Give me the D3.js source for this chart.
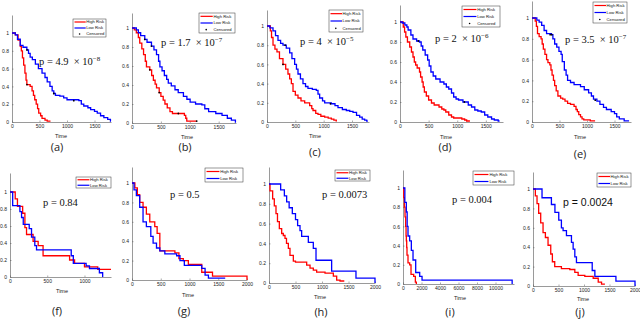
<!DOCTYPE html>
<html>
<head>
<meta charset="utf-8">
<script src="https://cdn.jsdelivr.net/npm/d3@7"></script>
<style>
  body { margin: 0; background: #fff; }
  svg { display: block; }
  .tick text { font-family: "Liberation Sans", Arial, sans-serif; font-size: 5px; fill: #222; }
  .domain { stroke: #555; stroke-width: 0.6; }
  .tick line { stroke: #555; stroke-width: 0.5; }
</style>
</head>
<body>
<div id="chart"></div>
<script>
// survival curves: [time, survival] step points
var highA = [[0,1],[60,0.98],[110,0.92],[150,0.85],[170,0.8],[190,0.72],[212,0.64],[235,0.55],[255,0.47],[270,0.42],[330,0.4],[365,0.35],[390,0.3],[413,0.25],[440,0.2],[465,0.15],[486,0.1],[520,0.07],[546,0.04],[600,0.02],[640,0.01],[700,0.01]];
var lowA = [[0,1],[60,0.98],[100,0.93],[150,0.86],[200,0.84],[270,0.81],[300,0.77],[330,0.73],[370,0.7],[425,0.65],[480,0.6],[546,0.55],[600,0.5],[640,0.45],[690,0.4],[730,0.35],[760,0.32],[790,0.3],[870,0.29],[940,0.27],[1000,0.25],[1215,0.24],[1260,0.2],[1305,0.18],[1380,0.16],[1430,0.14],[1500,0.12],[1550,0.1],[1610,0.07],[1670,0.05],[1740,0.03],[1790,0.01],[1800,0.01]];
var censA = [[273,0.42],[273,0.81],[760,0.32],[1123,0.24]];

var highB = [[0,1],[40,0.98],[75,0.95],[110,0.9],[134,0.84],[170,0.78],[200,0.72],[230,0.65],[250,0.59],[308,0.56],[340,0.5],[370,0.45],[400,0.41],[424,0.37],[471,0.32],[500,0.28],[540,0.24],[570,0.2],[610,0.16],[657,0.12],[700,0.1],[907,0.08],[930,0.05],[948,0.02],[1120,0.02]];
var lowB = [[0,1],[75,0.98],[110,0.95],[150,0.92],[221,0.88],[260,0.85],[337,0.81],[380,0.77],[424,0.72],[460,0.65],[483,0.59],[520,0.55],[560,0.5],[600,0.46],[628,0.42],[680,0.39],[744,0.35],[800,0.32],[890,0.28],[950,0.25],[1006,0.22],[1100,0.2],[1209,0.19],[1260,0.15],[1326,0.12],[1450,0.1],[1558,0.08],[1650,0.05],[1720,0.03],[1790,0.01],[1800,0.01]];
var censB = [[221,0.88],[337,0.81],[308,0.56],[471,0.32],[802,0.1],[1120,0.02]];

var highC = [[0,1],[59,0.95],[80,0.88],[106,0.8],[140,0.76],[176,0.73],[220,0.66],[282,0.6],[330,0.55],[370,0.5],[400,0.45],[430,0.4],[459,0.32],[500,0.28],[547,0.25],[600,0.22],[665,0.2],[753,0.17],[790,0.14],[812,0.12],[860,0.09],[900,0.08],[950,0.06],[1018,0.05],[1080,0.04],[1135,0.03],[1180,0.02],[1223,0.01],[1230,0.01]];
var lowC = [[0,1],[50,0.98],[106,0.95],[150,0.9],[194,0.85],[240,0.82],[282,0.8],[340,0.77],[400,0.72],[440,0.66],[488,0.6],[520,0.55],[547,0.5],[590,0.45],[635,0.4],[680,0.37],[723,0.35],[800,0.34],[870,0.33],[900,0.29],[929,0.25],[980,0.22],[1018,0.2],[1135,0.19],[1200,0.17],[1253,0.15],[1330,0.13],[1400,0.12],[1460,0.11],[1518,0.1],[1580,0.07],[1635,0.05],[1680,0.03],[1723,0.02],[1760,0.01],[1780,0.01]];
var censC = [[282,0.6],[320,0.8],[1120,0.19]];

var highD = [[0,1],[57,0.95],[80,0.9],[102,0.85],[130,0.8],[170,0.75],[200,0.7],[227,0.65],[250,0.6],[273,0.57],[300,0.54],[341,0.5],[360,0.45],[386,0.4],[405,0.35],[426,0.3],[460,0.26],[500,0.22],[550,0.19],[597,0.17],[682,0.15],[730,0.13],[767,0.12],[800,0.1],[852,0.07],[900,0.05],[938,0.04],[1080,0.03],[1130,0.02],[1165,0.01],[1222,0.01]];
var lowD = [[0,1],[40,0.99],[85,0.97],[120,0.95],[142,0.92],[190,0.87],[227,0.83],[290,0.81],[341,0.8],[370,0.76],[398,0.72],[440,0.67],[483,0.62],[510,0.56],[540,0.5],[580,0.46],[625,0.43],[700,0.4],[767,0.38],[810,0.35],[852,0.33],[900,0.29],[938,0.25],[980,0.23],[1023,0.22],[1100,0.2],[1193,0.17],[1250,0.15],[1307,0.12],[1360,0.11],[1420,0.1],[1480,0.07],[1534,0.05],[1600,0.03],[1648,0.02],[1716,0.01],[1740,0.01]];
var censD = [[320,0.81],[1125,0.2]];

var highE = [[0,1],[59,0.97],[80,0.92],[100,0.85],[130,0.82],[165,0.8],[185,0.75],[206,0.7],[235,0.65],[265,0.6],[290,0.57],[324,0.55],[345,0.5],[365,0.45],[390,0.4],[412,0.35],[440,0.3],[471,0.25],[520,0.23],[559,0.22],[600,0.2],[647,0.18],[700,0.17],[765,0.15],[800,0.12],[824,0.1],[850,0.07],[882,0.05],[910,0.03],[941,0.02],[1059,0.01],[1147,0.01]];
var lowE = [[0,1],[88,0.98],[130,0.96],[176,0.93],[220,0.88],[265,0.85],[353,0.84],[380,0.8],[412,0.75],[450,0.72],[490,0.68],[529,0.65],[550,0.58],[588,0.5],[620,0.45],[647,0.4],[700,0.38],[765,0.36],[882,0.34],[950,0.31],[1029,0.28],[1080,0.25],[1118,0.22],[1180,0.2],[1235,0.17],[1300,0.14],[1353,0.12],[1440,0.1],[1500,0.08],[1540,0.05],[1588,0.03],[1676,0.01],[1765,0.01]];
var censE = [[330,0.84],[360,0.84],[1150,0.21]];

var highF = [[0,1],[70,0.92],[100,0.83],[170,0.75],[200,0.58],[222,0.5],[310,0.42],[378,0.37],[444,0.25],[800,0.2],[867,0.16],[1000,0.12],[1178,0.09],[1356,0.09]];
var lowF = [[0,1],[36,0.84],[133,0.77],[155,0.7],[178,0.62],[258,0.57],[289,0.47],[333,0.37],[356,0.32],[822,0.25],[850,0.16],[1022,0.13],[1067,0.1],[1200,0.05],[1244,0]];

var highG = [[0,1],[50,0.95],[93,0.88],[134,0.8],[192,0.75],[250,0.68],[309,0.6],[396,0.55],[437,0.48],[484,0.3],[746,0.28],[816,0.22],[892,0.2],[980,0.16],[1213,0.08],[1400,0.04],[2000,0]];
var lowG = [[0,1],[35,0.93],[76,0.87],[134,0.75],[192,0.6],[250,0.55],[327,0.45],[367,0.38],[426,0.33],[484,0.3],[571,0.27],[776,0.25],[834,0.2],[910,0.15],[1213,0.12],[1271,0.05],[1329,0.02],[1621,0.02]];

var highH = [[0,1],[19,0.93],[69,0.85],[100,0.78],[132,0.7],[160,0.62],[195,0.55],[239,0.5],[270,0.48],[302,0.45],[330,0.4],[365,0.35],[396,0.28],[459,0.22],[500,0.21],[711,0.18],[774,0.15],[836,0.13],[899,0.11],[1057,0.1],[1214,0.07],[1277,0.03],[1340,0.02],[1421,0.02]];
var lowH = [[0,1],[220,0.94],[290,0.88],[333,0.82],[380,0.76],[440,0.7],[500,0.64],[540,0.58],[585,0.53],[616,0.47],[742,0.41],[836,0.35],[887,0.23],[1182,0.12],[1641,0.05],[2000,0]];

var highI = [[0,1],[80,0.9],[144,0.8],[220,0.7],[289,0.6],[330,0.5],[361,0.45],[400,0.38],[433,0.3],[541,0.22],[722,0.2],[866,0.1],[1155,0.08],[1336,0.02],[1444,0]];
var lowI = [[0,1],[200,0.85],[361,0.75],[450,0.6],[541,0.5],[722,0.45],[902,0.35],[1083,0.25],[1372,0.12],[1805,0.08],[2058,0.04],[11800,0]];

var highJ = [[0,1],[46,0.93],[79,0.85],[111,0.75],[151,0.65],[197,0.55],[243,0.5],[295,0.42],[348,0.33],[380,0.25],[426,0.2],[557,0.18],[721,0.17],[820,0.14],[885,0.11],[1016,0.1],[1180,0.08],[1279,0.04],[1344,0.02],[1410,0.02]];
var lowJ = [[0,1],[177,0.91],[361,0.84],[430,0.76],[505,0.68],[557,0.6],[590,0.57],[656,0.52],[754,0.45],[787,0.38],[820,0.3],[852,0.24],[1161,0.16],[1213,0.1],[1626,0.05],[2000,0]];

// tick labels
var yTicks = [0, 0.2, 0.4, 0.6, 0.8, 1];
var xTicks1500 = [0, 500, 1000, 1500];
var xTicks1000 = [0, 500, 1000];
var xTicks2000 = [0, 500, 1000, 1500, 2000];
var xTicksI = [0, 2000, 4000, 6000, 8000, 10000];

// text
var seriesNames = ["High Risk", "Low Risk", "Censored"];
var pMain = ["p = 4.9  × 10", "p = 1.7  × 10", "p = 4  × 10", "p = 2  × 10", "p = 3.5  × 10",
             "p = 0.84", "p = 0.5", "p = 0.0073", "p = 0.004", "p = 0.0024"];
var pExp = ["−8", "−7", "−5", "−6", "−7", "", "", "", "", ""];
var panelNames = ["(a)", "(b)", "(c)", "(d)", "(e)", "(f)", "(g)", "(h)", "(i)", "(j)"];

var width = 640, height = 319;
var svg = d3.select("#chart").append("svg")
    .attr("width", width)
    .attr("height", height);

// layout of each sub-figure (pixel positions)
var panels = [
  { high: highA, low: lowA, cens: censA, xTicks: xTicks1500, xMax: 1800, left: 12, right: 111, yZero: 122, yOne: 33, top: 15,
    leg: [73, 19, 33, 18], px: 39, py: 65, tx: 61, ty: 138, lx: 57, ly: 151 },
  { high: highB, low: lowB, cens: censB, xTicks: xTicks1500, xMax: 1800, left: 132, right: 236, yZero: 123, yOne: 28, top: 13,
    leg: [199, 13, 36, 20], px: 161, py: 46, tx: 187, ty: 139, lx: 185, ly: 151 },
  { high: highC, low: lowC, cens: censC, xTicks: xTicks1500, xMax: 1800, left: 267, right: 369, yZero: 122, yOne: 26, top: 10,
    leg: [329, 10, 34, 22], px: 300, py: 45, tx: 315, ty: 138, lx: 315, ly: 156 },
  { high: highD, low: lowD, cens: censD, xTicks: xTicks1500, xMax: 1800, left: 400, right: 503, yZero: 122, yOne: 22, top: 5,
    leg: [462, 6, 38, 21], px: 435, py: 42, tx: 446, ty: 139, lx: 445, ly: 151 },
  { high: highE, low: lowE, cens: censE, xTicks: xTicks1500, xMax: 1800, left: 532, right: 631, yZero: 122, yOne: 18, top: 1,
    leg: [593, 2, 34, 21], px: 565, py: 43, tx: 580, ty: 139, lx: 580, ly: 158 },
  { high: highF, low: lowF, cens: [], xTicks: xTicks1000, xMax: 1356, left: 10, right: 111, yZero: 277, yOne: 192, top: 173,
    leg: [76, 177, 35, 11], px: 43, py: 206, tx: 62, ty: 293, lx: 57, ly: 315 },
  { high: highG, low: lowG, cens: [], xTicks: xTicks2000, xMax: 2000, left: 132, right: 247, yZero: 280, yOne: 183, top: 167,
    leg: [205, 168, 38, 14], px: 170, py: 198, tx: 188, ty: 297, lx: 184, ly: 315 },
  { high: highH, low: lowH, cens: [], xTicks: xTicks2000, xMax: 2000, left: 269, right: 375, yZero: 283, yOne: 184, top: 167,
    leg: [335, 170, 35, 11], px: 322, py: 198, tx: 320, ty: 299, lx: 321, ly: 316 },
  { high: highI, low: lowI, cens: [], xTicks: xTicksI, xMax: 12000, left: 403, right: 514, yZero: 284, yOne: 188, top: 170,
    leg: [473, 171, 41, 14], px: 452, py: 203, tx: 460, ty: 300, lx: 450, ly: 316 },
  { high: highJ, low: lowJ, cens: [], xTicks: xTicks2000, xMax: 2000, left: 533, right: 635, yZero: 286, yOne: 189, top: 172,
    leg: [597, 173, 34, 14], px: 563, py: 206, tx: 583, ty: 301, lx: 580, ly: 316 }
];

var colors = ["#ff0000", "#0000ff", "#000000"];

panels.forEach(function(p, i) {
    var yTop = (p.yZero - p.top) / (p.yZero - p.yOne);
    var x = d3.scaleLinear().domain([0, p.xMax]).range([p.left, p.right]);
    var y = d3.scaleLinear().domain([0, yTop]).range([p.yZero, p.top]);
    var g = svg.append("g");

    g.append("g")
        .attr("transform", "translate(0," + p.yZero + ")")
        .call(d3.axisBottom(x).tickValues(p.xTicks).tickSizeInner(-1.5).tickSizeOuter(0).tickPadding(2.5).tickFormat(d3.format("d")));

    g.append("g")
        .attr("transform", "translate(" + p.left + ",0)")
        .call(d3.axisLeft(y).tickValues(yTicks).tickSizeInner(-1.5).tickSizeOuter(0).tickPadding(3).tickFormat(d3.format("~g")));

    var line = d3.line()
        .x(function(d) { return x(d[0]); })
        .y(function(d) { return y(d[1]); })
        .curve(d3.curveStepAfter);

    g.append("path").datum(p.high)
        .attr("fill", "none").attr("stroke", colors[0]).attr("stroke-width", 1.3)
        .attr("d", line);
    g.append("path").datum(p.low)
        .attr("fill", "none").attr("stroke", colors[1]).attr("stroke-width", 1.3)
        .attr("d", line);

    g.selectAll("circle.cens").data(p.cens).enter()
        .append("circle")
        .attr("class", "cens")
        .attr("cx", function(d) { return x(d[0]); })
        .attr("cy", function(d) { return y(d[1]); })
        .attr("r", 0.9)
        .attr("fill", "#000");

    // legend
    var n = p.cens.length ? 3 : 2;
    var lg = g.append("g").attr("transform", "translate(" + p.leg[0] + "," + p.leg[1] + ")");
    lg.append("rect")
        .attr("width", p.leg[2]).attr("height", p.leg[3])
        .attr("fill", "#fff").attr("stroke", "#333").attr("stroke-width", 0.5);
    var rowH = p.leg[3] / n;
    for (var k = 0; k < n; k++) {
        var cy = rowH * (k + 0.5);
        if (k < 2) {
            lg.append("rect")
                .attr("x", 1.5).attr("width", p.leg[2] * 0.34)
                .attr("y", cy - 0.6).attr("height", 1.2)
                .attr("fill", colors[k]);
        } else {
            lg.append("circle").attr("cx", p.leg[2] * 0.2).attr("cy", cy).attr("r", 0.8).attr("fill", "#000");
        }
        lg.append("text")
            .attr("x", p.leg[2] * 0.4).attr("y", cy + 1.4)
            .attr("font-family", "Liberation Sans, Arial, sans-serif")
            .attr("font-size", "4.2px")
            .attr("fill", "#111")
            .text(seriesNames[k]);
    }

    // p value
    var pt = g.append("text")
        .attr("x", p.px).attr("y", p.py)
        .attr("font-family", i === 9 ? "Liberation Sans, Arial, sans-serif" : "Liberation Serif, Times New Roman, serif")
        .attr("font-size", "10.5px")
        .attr("fill", "#111")
        .attr("xml:space", "preserve")
        .text(pMain[i]);
    if (pExp[i]) {
        pt.append("tspan")
            .attr("dy", -4.5)
            .attr("font-size", "7px")
            .text(pExp[i]);
    }

    g.append("text")
        .attr("x", p.tx).attr("y", p.ty)
        .attr("text-anchor", "middle")
        .attr("font-family", "Liberation Sans, Arial, sans-serif")
        .attr("font-size", "5.5px")
        .attr("fill", "#222")
        .text("Time");

    g.append("text")
        .attr("x", p.lx).attr("y", p.ly)
        .attr("text-anchor", "middle")
        .attr("font-family", "Open Sans, Liberation Sans, sans-serif")
        .attr("font-size", "11px")
        .attr("fill", "#222")
        .text(panelNames[i]);
});
</script>
</body>
</html>
